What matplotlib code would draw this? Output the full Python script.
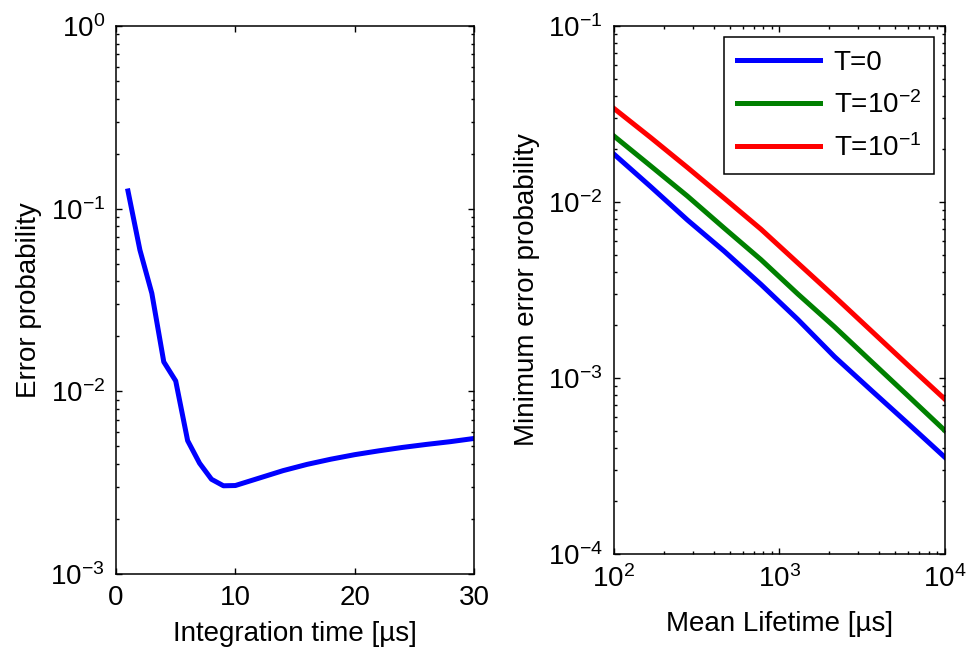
import numpy as np
import matplotlib
matplotlib.use("Agg")
import matplotlib.pyplot as plt
from matplotlib.ticker import LogLocator, NullFormatter

plt.rcParams["font.family"] = ["Liberation Sans", "DejaVu Sans"]
plt.rcParams["mathtext.fontset"] = "custom"
plt.rcParams["mathtext.rm"] = "Liberation Sans"
plt.rcParams["mathtext.it"] = "Liberation Sans:italic"
plt.rcParams["font.size"] = 20

# left panel: error probability vs integration time
t_int = [1, 2, 3, 4, 5, 6, 7, 8, 9, 10, 12, 14, 16, 18, 20, 22, 24, 26, 28, 30]
p_err = [0.125, 0.0594, 0.0344, 0.0145, 0.0114, 0.00537, 0.00404, 0.0033,
         0.00304, 0.00305, 0.00335, 0.00368, 0.00398, 0.00425, 0.00450,
         0.00472, 0.00493, 0.00512, 0.00530, 0.00552]

# right panel: minimum error probability vs mean lifetime
lifetime = [100, 167, 278, 464, 774, 1292, 2154, 3594, 5995, 10000]
p_T0 = [0.0187, 0.0122, 0.0079, 0.00525, 0.0034, 0.00215, 0.00132, 0.00085,
        0.00055, 0.000354]
p_T2 = [0.0237, 0.0160, 0.0108, 0.0071, 0.0047, 0.0030, 0.00195, 0.00124,
        0.00079, 0.000502]
p_T1 = [0.0340, 0.0232, 0.0157, 0.0105, 0.0070, 0.0045, 0.0029, 0.00185,
        0.00118, 0.000757]
labels = ["T=0", r"T=10$^{-2}$", r"T=10$^{-1}$"]
colors = ["#0000ff", "#008000", "#ff0000"]

fig = plt.figure(figsize=(9.67, 6.53), dpi=100)
ax1 = fig.add_axes([0.1200, 0.1210, 0.3702, 0.8392])
ax2 = fig.add_axes([0.6349, 0.1516, 0.3423, 0.8086])


def matlab_style(ax):
    for s in ax.spines.values():
        s.set_linewidth(1.1)
    ax.tick_params(which="both", direction="in", top=True, right=True,
                   width=1.0)
    ax.tick_params(which="major", length=4.5, pad=8)
    ax.tick_params(which="minor", length=2.5)


# ── left ──
ax1.plot(t_int, p_err, color="#0000ff", lw=3.6)
ax1.set_yscale("log")
ax1.set_xlim(0, 30)
ax1.set_ylim(1e-3, 1)
ax1.set_xticks([0, 10, 20, 30])
ax1.yaxis.set_minor_locator(LogLocator(base=10, subs=np.arange(2, 10)))
ax1.yaxis.set_minor_formatter(NullFormatter())
ax1.set_xlabel("Integration time [µs]", labelpad=7)
ax1.set_ylabel("Error probability", labelpad=6)
matlab_style(ax1)

# ── right ──
for y, lab, c in zip([p_T0, p_T2, p_T1], labels, colors):
    ax2.plot(lifetime, y, color=c, lw=3.6, label=lab)
ax2.set_xscale("log")
ax2.set_yscale("log")
ax2.set_xlim(1e2, 1e4)
ax2.set_ylim(1e-4, 1e-1)
for axis in (ax2.xaxis, ax2.yaxis):
    axis.set_minor_locator(LogLocator(base=10, subs=np.arange(2, 10)))
    axis.set_minor_formatter(NullFormatter())
ax2.set_xlabel("Mean Lifetime [µs]", labelpad=13)
ax2.set_ylabel("Minimum error probability", labelpad=6)
matlab_style(ax2)
leg = ax2.legend(loc="upper right", handlelength=3.0, labelspacing=0.55,
                 borderpad=0.45, handletextpad=0.5, fancybox=False,
                 framealpha=1, edgecolor="black", borderaxespad=0.4)
leg.get_frame().set_linewidth(1.1)

fig.savefig("out.png", dpi=100)
